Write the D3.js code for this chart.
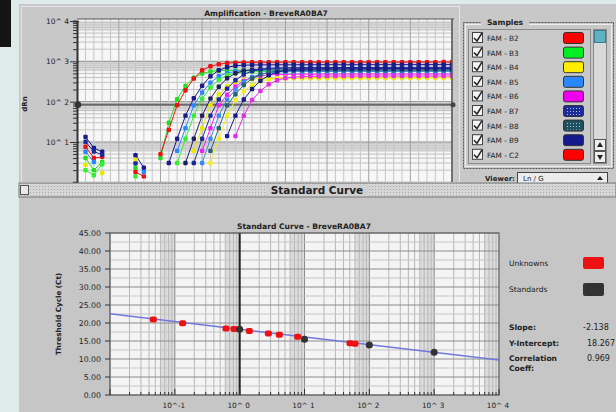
<!DOCTYPE html>
<html><head><meta charset="utf-8">
<script src="https://cdn.jsdelivr.net/npm/d3@7"></script>
<style>
body{margin:0;background:#dfeaea;}
svg{display:block;}
text{font-family:"DejaVu Sans",Verdana,sans-serif;fill:#222;}
</style></head>
<body><svg id="c" width="616" height="412"></svg>
<script>
const _ = null;
// ---------- Amplification plot data (dRn per cycle, cycles 1..45) ----------
const cycles = [1,2,3,4,5,6,7,8,9,10,11,12,13,14,15,16,17,18,19,20,21,22,23,24,25,26,27,28,29,30,31,32,33,34,35,36,37,38,39,40,41,42,43,44,45];
const yTicksTop = [1e1,1e2,1e3,1e4];
const yTickLabelsTop = ["10^ 1","10^ 2","10^ 3","10^ 4"];
const thresholdValue = 84;

const curveA = [4.0,2.0,3.2,_,_,_,2.3,_,_,4,30,115,246,391,501,559,584,594,598,600,601,602,602,603,603,604,604,605,605,605,606,606,606,607,607,607,608,608,608,608,609,609,609,610,610];
const curveB = [7.6,4.0,4.3,_,_,_,1.8,1.4,_,5,20,82,192,373,600,753,844,908,930,940,945,948,950,951,952,952,953,953,954,954,955,955,955,956,956,956,957,957,957,958,958,958,958,959,959];
const curveC = [13.4,7.1,5.7,_,_,_,4.7,2.3,_,_,3,12,45,121,248,427,599,714,774,801,812,817,820,821,822,822,823,823,824,824,825,825,825,826,826,826,827,827,827,828,828,828,829,829,829];
const curveD = [5.7,3.2,_,_,_,_,_,1.8,_,_,_,6,22,81,169,296,426,515,563,585,594,598,600,600,601,601,602,602,602,603,603,603,604,604,604,605,605,605,605,606,606,606,606,607,607];
const curveE = [2.0,1.5,2.8,_,_,_,1.4,_,_,_,_,3,12,45,118,224,351,452,511,539,552,557,560,560,561,561,561,562,562,562,563,563,563,564,564,564,564,565,565,565,565,566,566,566,566];
const curveF = [_,_,_,_,_,_,_,_,_,_,_,_,3,12,45,119,234,380,506,584,622,638,645,648,650,650,651,651,652,652,652,653,653,653,654,654,654,654,655,655,655,655,656,656,656];
const curveG = [2.7,_,1.7,_,_,_,3.6,_,_,_,_,_,_,6,22,81,153,239,307,347,366,374,378,380,380,381,381,381,382,382,382,382,383,383,383,383,384,384,384,384,385,385,385,385,385];
const curveH = [10.1,5.8,4.8,_,_,_,2.95,_,_,_,_,_,_,3,12,45,114,210,339,472,574,636,669,686,693,697,700,700,701,701,702,702,702,703,703,703,704,704,704,704,705,705,705,705,706];
const curveI = [_,_,_,_,_,_,_,_,_,_,_,_,_,_,6,22,81,148,238,328,397,438,460,471,476,478,480,480,481,481,481,482,482,482,483,483,483,483,484,484,484,484,485,485,485];
const curveJ = [_,_,_,_,_,_,_,_,_,_,_,_,_,_,3,12,45,112,199,307,408,479,520,541,551,556,558,560,560,561,561,561,562,562,562,563,563,563,563,564,564,564,564,565,565];
const curveK = [_,_,_,_,_,_,_,_,_,_,_,_,_,_,_,6,22,81,153,258,375,471,534,568,585,593,597,600,600,601,601,601,602,602,602,603,603,603,603,604,604,604,604,605,605];
const curveL = [_,_,_,_,_,_,_,_,_,_,_,_,_,_,_,3,12,45,109,181,258,320,359,380,391,396,398,400,400,400,401,401,401,401,402,402,402,402,403,403,403,403,404,404,404];
const curveM = [_,_,_,_,_,_,_,_,_,_,_,_,_,_,_,_,_,14,45,113,206,329,450,541,595,624,638,644,647,650,650,651,651,651,652,652,652,653,653,653,653,654,654,654,654];
const curveN = [_,_,_,_,_,_,_,_,_,_,_,_,_,_,_,_,_,_,14,45,110,185,269,338,383,407,419,424,427,429,430,430,431,431,431,432,432,432,433,433,433,433,434,434,434];

const curves = [curveA,curveB,curveC,curveD,curveE,curveF,curveG,curveH,curveI,curveJ,curveK,curveL,curveM,curveN];
const curveColors = ["#22dd22","#ee1111","#1a1a8a","#2a88ff","#33ee33","#202060","#e8e800","#1c2a9a","#ee22ee","#3a8aee","#2a6070","#eeee22","#1a1a8a","#e030e0"];

// ---------- Samples legend ----------
const sampleNames = ["FAM - B2","FAM - B3","FAM - B4","FAM - B5","FAM - B6","FAM - B7","FAM - B8","FAM - B9","FAM - C2"];
const sampleColors = ["#ff0000","#00ee22","#ffee00","#2a88ff","#ee00ee","#1c2a9a","#1e5060","#141a8c","#ff0000"];
const sampleDotted = [false,false,false,false,false,true,true,false,false];

// ---------- Standard curve data ----------
const unkQty = [0.0466,0.132,0.615,0.818,1.41,2.77,4.09,7.85,50.4,60.1];
const unkCt  = [21.0,19.9,18.5,18.3,17.8,17.1,16.75,16.2,14.4,14.25];
const stdQty = [1,10,100,1000];
const stdCt  = [18.25,15.5,13.9,11.9];
const slope = -2.138, intercept = 18.267;
const yTicksBottom = [0,5,10,15,20,25,30,35,40,45];
const xTicksBottom = [1e-1,1e0,1e1,1e2,1e3,1e4];
const xTickLabelsBottom = ["10^-1","10^ 0","10^ 1","10^ 2","10^ 3","10^ 4"];
const statLabels = ["Slope:","Y-Intercept:","Correlation","Coeff:"];
const statValues = ["-2.138","18.267","0.969"];

const svg = d3.select("#c");
const defs = svg.append("defs");
const pat = defs.append("pattern").attr("id","dots").attr("width",3).attr("height",3).attr("patternUnits","userSpaceOnUse");
pat.append("rect").attr("width",3).attr("height",3).attr("fill","#d6d6d6");
pat.append("rect").attr("width",1).attr("height",1).attr("fill","#a8a8a8");
const pat2 = defs.append("pattern").attr("id","swdots").attr("width",3).attr("height",3).attr("patternUnits","userSpaceOnUse");
pat2.append("rect").attr("width",1).attr("height",1).attr("fill","#9fc8d0");

// background pieces
svg.append("rect").attr("width",616).attr("height",412).attr("fill","#dfeaea");
svg.append("rect").attr("x",0).attr("y",0).attr("width",11).attr("height",47).attr("fill","#141414");
svg.append("rect").attr("x",19).attr("y",4).attr("width",597).attr("height",180).attr("fill","#c8c8c8");
svg.append("rect").attr("x",19).attr("y",197).attr("width",597).attr("height",215).attr("fill","#c6c6c6");
svg.append("rect").attr("x",21.5).attr("y",6.5).attr("width",438).attr("height",176).attr("fill","none").attr("stroke","#e4e4e4");

// ===== TOP: amplification plot =====
const xT = d3.scaleLinear().domain([0,45]).range([77.2,452]);
const yT = d3.scaleLog().domain([1,1e4]).range([182.3,21]);
const tp = {x0:77, x1:452, y0:19, y1:182};
defs.append("clipPath").attr("id","clipT").append("rect").attr("x",tp.x0).attr("y",tp.y0).attr("width",tp.x1-tp.x0).attr("height",tp.y1-tp.y0);
const gT = svg.append("g");
gT.append("rect").attr("x",tp.x0).attr("y",tp.y0).attr("width",tp.x1-tp.x0).attr("height",tp.y1-tp.y0).attr("fill","#f7f7f7");
const gTg = gT.append("g").attr("clip-path","url(#clipT)");
// bands
[1,10,100,1000].forEach(d=>{
  gTg.append("rect").attr("x",tp.x0).attr("width",tp.x1-tp.x0)
    .attr("y",yT(d*10)).attr("height",yT(d*6)-yT(d*10)).attr("fill","#dcdcdc");
});
// horizontal log grid
const minorT = [];
[1,10,100,1000].forEach(d=>{for(let m=1;m<=9;m++) minorT.push(d*m);});
gTg.selectAll("line.hm").data(minorT).join("line")
  .attr("x1",tp.x0).attr("x2",tp.x1).attr("y1",d=>yT(d)).attr("y2",d=>yT(d))
  .attr("stroke",d=>[1,10,100,1000].includes(d)?"#8e8e8e":"#c2c2c2").attr("stroke-width",1);
// vertical grid per cycle
gTg.selectAll("line.v").data(cycles).join("line")
  .attr("x1",d=>xT(d)).attr("x2",d=>xT(d)).attr("y1",tp.y0).attr("y2",tp.y1)
  .attr("stroke",d=>d%5===0?"#a4a4a4":"#c6c6c6").attr("stroke-width",1);
// threshold
gTg.append("line").attr("x1",tp.x0).attr("x2",tp.x1).attr("y1",yT(thresholdValue)).attr("y2",yT(thresholdValue))
  .attr("stroke","#6a6a6a").attr("stroke-width",2);
// curves
const line = d3.line().defined(d=>d.v!==null).x(d=>xT(d.c)).y(d=>yT(d.v));
curves.forEach((arr,i)=>{
  const pts = arr.map((v,j)=>({c:cycles[j],v:v}));
  gTg.append("path").attr("d",line(pts)).attr("fill","none").attr("stroke",curveColors[i]).attr("stroke-width",1);
  gTg.selectAll(null).data(pts.filter(p=>p.v!==null)).join("rect")
    .attr("x",p=>xT(p.c)-2.2).attr("y",p=>yT(p.v)-2.2).attr("width",4.4).attr("height",4.4).attr("rx",1.2)
    .attr("fill",curveColors[i]);
});
// plot frame
gT.append("line").attr("x1",tp.x0).attr("x2",tp.x1+2).attr("y1",tp.y0).attr("y2",tp.y0).attr("stroke","#555");
gT.append("line").attr("x1",tp.x1).attr("x2",tp.x1).attr("y1",tp.y0).attr("y2",tp.y1).attr("stroke","#555").attr("stroke-width",1.5);
gT.append("circle").attr("cx",tp.x1+1).attr("cy",yT(thresholdValue)).attr("r",2.5).attr("fill","#444");
// y axis ruler
const axT = d3.axisLeft(yT).tickValues(minorT.concat([1e4])).tickSize(4).tickFormat("");
const axG = gT.append("g").attr("transform",`translate(${tp.x0},0)`).call(axT);
axG.selectAll("line").attr("stroke","#333");
axG.select(".domain").attr("stroke","#333").attr("stroke-width",2);
axG.selectAll(".tick").filter(d=>[1e1,1e2,1e3,1e4].includes(d)).select("line").attr("x2",-7).attr("x1",2);
gT.append("circle").attr("cx",tp.x0+1).attr("cy",yT(thresholdValue)).attr("r",3.2).attr("fill","#333");
gT.selectAll("text.yl").data(yTicksTop).join("text")
  .attr("x",69).attr("y",d=>yT(d)+3).attr("text-anchor","end").attr("font-size",7.5)
  .text((d,i)=>yTickLabelsTop[i]);
gT.append("text").attr("transform","translate(27,104) rotate(-90)").attr("text-anchor","middle")
  .attr("font-size",7).attr("font-weight","bold").text("dRn");
gT.append("text").attr("x",266).attr("y",15.5).attr("text-anchor","middle").attr("font-size",7.6)
  .attr("font-weight","bold").text("Amplification - BreveRA0BA7");

// samples legend
const gL = svg.append("g");
gL.append("rect").attr("x",463.5).attr("y",22.5).attr("width",150).attr("height",146)
  .attr("fill","none").attr("stroke","#555").attr("stroke-dasharray","2,1");
gL.append("rect").attr("x",465.5).attr("y",24.5).attr("width",146).attr("height",142)
  .attr("fill","none").attr("stroke","#eee");
gL.append("rect").attr("x",481).attr("y",17).attr("width",48).attr("height",10).attr("fill","#c8c8c8");
gL.append("text").attr("x",505).attr("y",25).attr("text-anchor","middle").attr("font-size",7.6).attr("font-weight","bold").text("Samples");
gL.append("rect").attr("x",468.5).attr("y",29.5).attr("width",122).attr("height",134).attr("fill","#c9c9c9").attr("stroke","#8a8a8a");
sampleNames.forEach((n,i)=>{
  const cy = 38 + i*14.6;
  gL.append("rect").attr("x",472.5).attr("y",cy-5.5).attr("width",10).attr("height",10).attr("fill","#f4f4f4").attr("stroke","#444");
  gL.append("path").attr("d",`M${474},${cy} L${477},${cy+3} L${482},${cy-5}`).attr("fill","none").attr("stroke","#222").attr("stroke-width",1.5);
  gL.append("text").attr("x",487).attr("y",cy+3).attr("font-size",7.3).text(n);
  gL.append("rect").attr("x",563.5).attr("y",cy-5.5).attr("width",20).attr("height",11).attr("rx",2)
    .attr("fill",sampleColors[i]).attr("stroke","#333");
  if(sampleDotted[i]) gL.append("rect").attr("x",565).attr("y",cy-4).attr("width",17).attr("height",8).attr("fill","url(#swdots)");
});
// scrollbar
gL.append("rect").attr("x",593.5).attr("y",29.5).attr("width",13).attr("height",134).attr("fill","#d9d9d9").attr("stroke","#888");
gL.append("rect").attr("x",594.5).attr("y",30.5).attr("width",11).attr("height",12).attr("fill","#5fb2c2").attr("stroke","#3a7d8a");
gL.append("rect").attr("x",594.5).attr("y",139.5).attr("width",11).attr("height",11).attr("fill","#eee").attr("stroke","#555");
gL.append("rect").attr("x",594.5).attr("y",151.5).attr("width",11).attr("height",11).attr("fill","#eee").attr("stroke","#555");
gL.append("path").attr("d","M597,147 L600,142 L603,147Z").attr("fill","#222");
gL.append("path").attr("d","M597,155 L600,160 L603,155Z").attr("fill","#222");
// viewer
gL.append("text").attr("x",485).attr("y",181).attr("font-size",7).attr("font-weight","bold").text("Viewer:");
gL.append("rect").attr("x",517.5).attr("y",172.5).attr("width",90).attr("height",11).attr("fill","#ececec").attr("stroke","#444");
gL.append("text").attr("x",523).attr("y",181).attr("font-size",7).text("Ln / G");
gL.append("path").attr("d","M597,180 L600,176 L603,180Z").attr("fill","#222");

// ===== separator =====
svg.append("rect").attr("x",19).attr("y",183).attr("width",597).attr("height",14).attr("fill","url(#dots)").attr("stroke","#777");
svg.append("rect").attr("x",20.5).attr("y",185.5).attr("width",8).attr("height",9).attr("fill","#e8e8e8").attr("stroke","#555");
svg.append("rect").attr("x",266).attr("y",184).attr("width",102).attr("height",12).attr("fill","#d0d0d0");
svg.append("text").attr("x",317).attr("y",194).attr("text-anchor","middle").attr("font-size",10.5).attr("font-weight","bold").text("Standard Curve");

// ===== BOTTOM: standard curve =====
const xB = d3.scaleLog().domain([1e-2,1e4]).range([110,499]);
const yB = d3.scaleLinear().domain([0,45]).range([395,233]);
const gB = svg.append("g");
gB.append("rect").attr("x",110).attr("y",233).attr("width",389).attr("height",162).attr("fill","#f4f4f4");
const decades = [1e-2,1e-1,1e0,1e1,1e2,1e3];
decades.forEach(d=>{
  gB.append("rect").attr("x",xB(d*6)).attr("y",233).attr("width",xB(d*10)-xB(d*6)).attr("height",162).attr("fill","#dcdcdc");
});
const minorB = [];
decades.forEach(d=>{for(let m=1;m<=9;m++) minorB.push(d*m);});
minorB.push(1e4);
gB.selectAll("line.vb").data(minorB).join("line")
  .attr("x1",d=>xB(d)).attr("x2",d=>xB(d)).attr("y1",233).attr("y2",395)
  .attr("stroke",d=>decades.includes(d)?"#8a8a8a":"#b8b8b8");
const hMinor = [2.5,7.5,12.5,17.5,22.5,27.5,32.5,37.5,42.5];
gB.selectAll("line.hm").data(hMinor).join("line")
  .attr("x1",110).attr("x2",499).attr("y1",d=>yB(d)).attr("y2",d=>yB(d)).attr("stroke","#c4c4c4");
gB.selectAll("line.hb").data(yTicksBottom).join("line")
  .attr("x1",110).attr("x2",499).attr("y1",d=>yB(d)).attr("y2",d=>yB(d)).attr("stroke","#8c8c8c");
gB.append("line").attr("x1",xB(1)).attr("x2",xB(1)).attr("y1",233).attr("y2",395).attr("stroke","#222").attr("stroke-width",2);
gB.append("rect").attr("x",110).attr("y",233).attr("width",389).attr("height",162).attr("fill","none").attr("stroke","#555");
// bottom minor ticks
gB.selectAll("line.tk").data(minorB).join("line")
  .attr("x1",d=>xB(d)).attr("x2",d=>xB(d)).attr("y1",395).attr("y2",d=>decades.includes(d)||d===1e4?389:392).attr("stroke","#333");
// regression line
gB.append("line")
  .attr("x1",xB(1e-2)).attr("y1",yB(intercept+slope*Math.log10(1e-2)))
  .attr("x2",xB(1e4)).attr("y2",yB(intercept+slope*Math.log10(1e4)))
  .attr("stroke","#6f78dd").attr("stroke-width",1.5);
// points
gB.selectAll("rect.u").data(unkQty).join("rect")
  .attr("x",(d)=>xB(d)-3.5).attr("y",(d,i)=>yB(unkCt[i])-3).attr("width",7).attr("height",6).attr("rx",2)
  .attr("fill","#ee1111");
gB.selectAll("circle.s").data(stdQty).join("circle")
  .attr("cx",d=>xB(d)).attr("cy",(d,i)=>yB(stdCt[i])).attr("r",3.5).attr("fill","#333");
// axis labels
gB.selectAll("text.yb").data(yTicksBottom).join("text")
  .attr("x",101).attr("y",d=>yB(d)+3).attr("text-anchor","end").attr("font-size",7.8)
  .text(d=>d.toFixed(2));
gB.selectAll("line.yt").data(yTicksBottom).join("line")
  .attr("x1",105).attr("x2",110).attr("y1",d=>yB(d)).attr("y2",d=>yB(d)).attr("stroke","#333");
gB.selectAll("text.xb").data(xTicksBottom).join("text")
  .attr("x",d=>xB(d)-1).attr("y",408).attr("text-anchor","middle").attr("font-size",7.3)
  .text((d,i)=>xTickLabelsBottom[i]);
gB.append("text").attr("transform","translate(61,314) rotate(-90)").attr("text-anchor","middle")
  .attr("font-size",7.2).attr("font-weight","bold").text("Threshold Cycle (Ct)");
gB.append("text").attr("x",304).attr("y",229).attr("text-anchor","middle").attr("font-size",7.6)
  .attr("font-weight","bold").text("Standard Curve - BreveRA0BA7");
// legend right
gB.append("text").attr("x",509).attr("y",266).attr("font-size",7.6).text("Unknowns");
gB.append("rect").attr("x",583).attr("y",257).attr("width",21).attr("height",12).attr("rx",2).attr("fill","#ee1111");
gB.append("text").attr("x",509).attr("y",292).attr("font-size",7.6).text("Standards");
gB.append("rect").attr("x",583).attr("y",283).attr("width",21).attr("height",13).attr("rx",2).attr("fill","#333");
const statY = [330,346,361,371];
statLabels.forEach((s,i)=>{
  gB.append("text").attr("x",509).attr("y",statY[i]).attr("font-size",7.6).attr("font-weight","bold").text(s);
});
statValues.forEach((s,i)=>{
  gB.append("text").attr("x",i===0?583:587).attr("y",statY[i]).attr("font-size",8).text(s);
});
</script>
</body></html>
